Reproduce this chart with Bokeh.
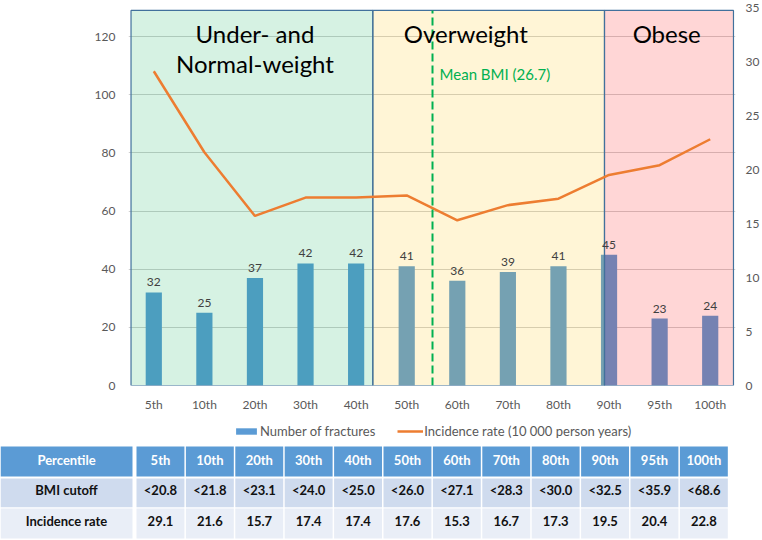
from bokeh.plotting import figure
from bokeh.models import (Range1d, LinearAxis, FixedTicker, Legend, LegendItem,
                          ColumnDataSource)
from bokeh.embed import file_html
from bokeh.resources import INLINE
from bokeh.core.properties import value

# ---------------- data ----------------
percentiles = ["5th", "10th", "20th", "30th", "40th", "50th",
               "60th", "70th", "80th", "90th", "95th", "100th"]
fractures = [32, 25, 37, 42, 42, 41, 36, 39, 41, 45, 23, 24]
incidence = [29.1, 21.6, 15.7, 17.4, 17.4, 17.6, 15.3, 16.7, 17.3, 19.5, 20.4, 22.8]
bmi_cutoff = ["<20.8", "<21.8", "<23.1", "<24.0", "<25.0", "<26.0",
              "<27.1", "<28.3", "<30.0", "<32.5", "<35.9", "<68.6"]
left_ticks = [0, 20, 40, 60, 80, 100, 120]
right_ticks = [0, 5, 10, 15, 20, 25, 30, 35]
zone_names = ["Under- and\nNormal-weight", "Overweight", "Obese"]
zone_edges = [-0.45, 4.33, 8.91, 11.46]
zone_label_x = [2.0, 6.17, 10.14]
zone_label_y = [115.9, 121.0, 121.0]
zone_colors = ["#00b050", "#ffc000", "#ff0000"]
mean_bmi_label = "Mean BMI (26.7)"
mean_bmi_x = 5.51
table_row_labels = ["Percentile", "BMI cutoff", "Incidence rate"]
legend_labels = ["Number of fractures", "Incidence rate (10 000 person years)"]

FONT = "Lato"
GREY = "#595959"
BAR = "#5b9bd5"
ORANGE = "#ed7d31"
PANEL_TOP = 129.0

# ---------------- chart ----------------
xs = list(range(len(percentiles)))
p = figure(width=762, height=416, x_range=Range1d(-0.5, 11.5), y_range=Range1d(0, 130),
           output_backend="svg", toolbar_location=None,
           min_border_left=128, min_border_right=27, min_border_top=7, min_border_bottom=31)
p.extra_y_ranges = {"rate": Range1d(0, 35)}
p.outline_line_color = None
p.background_fill_color = "white"
p.border_fill_color = "white"

p.xgrid.visible = False
p.ygrid.ticker = FixedTicker(ticks=left_ticks)
p.ygrid.grid_line_color = "#d0d0d0"
p.ygrid.grid_line_width = 1

p.yaxis.ticker = FixedTicker(ticks=left_ticks)
p.xaxis.ticker = FixedTicker(ticks=xs)
p.xaxis.major_label_overrides = {i: lab for i, lab in enumerate(percentiles)}

raxis = LinearAxis(y_range_name="rate", ticker=FixedTicker(ticks=right_ticks))
p.add_layout(raxis, "right")

for ax in p.axis:
    ax.axis_line_color = None
    ax.major_tick_line_color = None
    ax.minor_tick_line_color = None
    ax.major_tick_out = 0
    ax.major_tick_in = 0
    ax.minor_tick_out = 0
    ax.minor_tick_in = 0
    ax.major_label_text_font = FONT
    ax.major_label_text_font_size = "12px"
    ax.major_label_text_color = GREY
p.yaxis[0].major_label_standoff = 13
raxis.major_label_standoff = 10
p.xaxis.major_label_standoff = 11

bar_src = ColumnDataSource(dict(x=xs, top=fractures, label=[str(v) for v in fractures]))
bars = p.vbar(x="x", top="top", width=0.32, source=bar_src, fill_color=BAR, line_color=None)

# coloured zones overlaid on the bars
p.quad(left=zone_edges[:-1], right=zone_edges[1:], bottom=0, top=PANEL_TOP,
       fill_color=zone_colors, fill_alpha=0.16, line_color="#41719c", line_width=1.2)

p.text(x="x", y="top", text="label", source=bar_src, text_align="center",
       text_baseline="bottom", y_offset=-6, text_font=value(FONT),
       text_font_size="12px", text_color="#404040")

line = p.line(x=xs, y=incidence, y_range_name="rate", line_color=ORANGE, line_width=2.5)

p.segment(x0=[mean_bmi_x], y0=[0], x1=[mean_bmi_x], y1=[PANEL_TOP],
          line_color="#00b050", line_width=2, line_dash="8 4")
p.text(x=[mean_bmi_x + 0.14], y=[107.3], text=[mean_bmi_label], text_align="left",
       text_baseline="middle", text_font=value(FONT), text_font_size="15px",
       text_color="#00b050")

p.text(x=zone_label_x, y=zone_label_y, text=zone_names, text_align="center",
       text_baseline="middle", text_font=value(FONT), text_font_size="24px",
       text_color="black", text_line_height=1.05)

# ---------------- legend + table ----------------
ncol = len(percentiles)
t = figure(width=762, height=124, x_range=Range1d(-2.753, 12.672),
           y_range=Range1d(3.065, -0.978),
           output_backend="svg", toolbar_location=None,
           x_axis_location=None, y_axis_location=None,
           min_border_left=0, min_border_right=0, min_border_top=0, min_border_bottom=0)
t.grid.visible = False
t.outline_line_color = None
t.background_fill_color = "white"
t.border_fill_color = "white"

# legend keys: same styling as the chart's bars and line (zero-size, nothing drawn)
key_bar = t.vbar(x=[0], top=[0], bottom=[0], width=0.32, fill_color=BAR, line_color=None)
key_line = t.line(x=[0], y=[0], line_color=ORANGE, line_width=2.5)
legend = Legend(items=[LegendItem(label=legend_labels[0], renderers=[key_bar]),
                       LegendItem(label=legend_labels[1], renderers=[key_line])],
                orientation="horizontal", location=(233, 101),
                border_line_color=None, background_fill_alpha=0,
                margin=0, padding=2, spacing=22, glyph_width=26, glyph_height=8,
                label_standoff=1, label_text_font_size="13px",
                label_text_color=GREY, label_text_font=FONT)
t.add_layout(legend)

row_fill = ["#5b9bd5", "#cfdbee", "#e9eef7"]
row_text_color = ["white", "#111111", "#111111"]
row_values = [percentiles, bmi_cutoff, [f"{v:.1f}" for v in incidence]]
row_top = [0.0, 1.04, 2.02]
row_bottom = [0.98, 1.98, 3.0]

cl, cr, cb, ct, cf = [], [], [], [], []
tx, ty, tt, tc = [], [], [], []
for r, lab in enumerate(table_row_labels):
    cl.append(-2.753); cr.append(-0.081); ct.append(row_top[r]); cb.append(row_bottom[r])
    cf.append(row_fill[r])
    tx.append(-1.417); ty.append(r + 0.43); tt.append(lab); tc.append(row_text_color[r])
    for c in range(ncol):
        cl.append(c); cr.append(c + 0.97); ct.append(row_top[r]); cb.append(row_bottom[r])
        cf.append(row_fill[r])
        tx.append(c + 0.485); ty.append(r + 0.43); tt.append(row_values[r][c])
        tc.append(row_text_color[r])

t.quad(left=cl, right=cr, top=ct, bottom=cb, fill_color=cf, line_color=None)
t.text(x=tx, y=ty, text=tt, text_color=tc, text_align="center", text_baseline="middle",
       text_font=value(FONT), text_font_size="13px", text_font_style="bold")

open("out.html", "w").write(file_html([p, t], INLINE))
